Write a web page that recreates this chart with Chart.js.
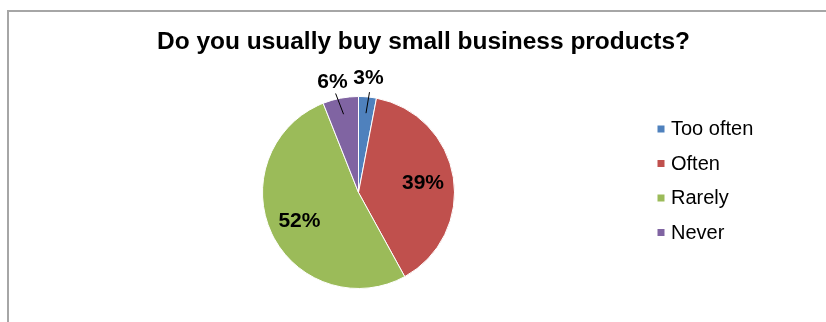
<!DOCTYPE html>
<html>
<head>
<meta charset="utf-8">
<script src="https://cdn.jsdelivr.net/npm/chart.js@4.4.0/dist/chart.umd.min.js"></script>
<style>
  html, body { margin: 0; padding: 0; background: #fff; }
  #wrap { width: 826px; height: 322px; position: relative; }
</style>
</head>
<body>
<div id="wrap"><canvas id="c" width="826" height="322"></canvas></div>
<script>
const titleText = 'Do you usually buy small business products?';
const categories = ['Too often', 'Often', 'Rarely', 'Never'];
const values = [3, 39, 52, 6];
const colors = ['#4F81BD', '#C0504D', '#9BBB59', '#8064A2'];

function fitText(ctx, text, x, y, width) {
  const w = ctx.measureText(text).width;
  ctx.save();
  ctx.translate(x, y);
  ctx.scale(width / w, 1);
  ctx.fillText(text, 0, 0);
  ctx.restore();
}

const deco = {
  id: 'deco',
  beforeDraw(chart) {
    const ctx = chart.ctx;
    ctx.save();
    ctx.fillStyle = '#fff';
    ctx.fillRect(0, 0, chart.width, chart.height);
    ctx.strokeStyle = '#a6a6a6';
    ctx.lineWidth = 2;
    ctx.beginPath();
    ctx.moveTo(8, chart.height + 5);
    ctx.lineTo(8, 11);
    ctx.lineTo(chart.width + 5, 11);
    ctx.stroke();
    ctx.restore();
  },
  afterDraw(chart) {
    const ctx = chart.ctx;
    ctx.save();
    // title
    ctx.fillStyle = '#000';
    ctx.font = 'bold 23.5px "Liberation Sans", Arial, sans-serif';
    ctx.textAlign = 'center';
    ctx.textBaseline = 'alphabetic';
    fitText(ctx, titleText, 423.5, 49, 533);

    // legend
    const rows = [129, 163.5, 198, 232.5];
    ctx.font = '20px "Liberation Sans", Arial, sans-serif';
    ctx.textAlign = 'left';
    ctx.textBaseline = 'middle';
    categories.forEach((c, i) => {
      ctx.fillStyle = colors[i];
      ctx.fillRect(657.5, rows[i] - 3.5, 7, 7);
      ctx.fillStyle = '#000';
      ctx.fillText(c, 671, rows[i] + 0.5);
    });

    // data labels
    const meta = chart.getDatasetMeta(0);
    const total = values.reduce((a, b) => a + b, 0);
    ctx.font = 'bold 21px "Liberation Sans", Arial, sans-serif';
    ctx.textAlign = 'center';
    meta.data.forEach((arc, i) => {
      const p = arc.getProps(['x', 'y', 'startAngle', 'endAngle', 'outerRadius'], true);
      const mid = (p.startAngle + p.endAngle) / 2;
      const pct = Math.round(values[i] / total * 100) + '%';
      ctx.fillStyle = '#000';
      if (values[i] < 10) {
        const r1 = p.outerRadius * 0.83;
        const r2 = p.outerRadius * 1.05;
        const off = i === 0 ? [1.5, 0] : [-4, 0];
        ctx.strokeStyle = '#000';
        ctx.lineWidth = 1;
        ctx.beginPath();
        ctx.moveTo(p.x + Math.cos(mid) * r1, p.y + Math.sin(mid) * r1);
        ctx.lineTo(p.x + Math.cos(mid) * r2 + off[0], p.y + Math.sin(mid) * r2);
        ctx.stroke();
        const lx = i === 0 ? 368.5 : 332.5;
        const ly = i === 0 ? 78 : 82;
        ctx.fillText(pct, lx, ly);
      } else {
        const r = p.outerRadius * 0.68;
        ctx.fillText(pct, p.x + Math.cos(mid) * r, p.y + Math.sin(mid) * r + 1);
      }
    });
    ctx.restore();
  }
};

new Chart(document.getElementById('c'), {
  type: 'pie',
  data: {
    labels: categories,
    datasets: [{
      data: values,
      backgroundColor: colors,
      borderColor: '#ffffff',
      borderWidth: 1
    }]
  },
  options: {
    responsive: false,
    animation: false,
    layout: { padding: { left: 262, right: 371, top: 96, bottom: 33 } },
    plugins: { legend: { display: false }, tooltip: { enabled: false }, title: { display: false } }
  },
  plugins: [deco]
});
</script>
</body>
</html>
